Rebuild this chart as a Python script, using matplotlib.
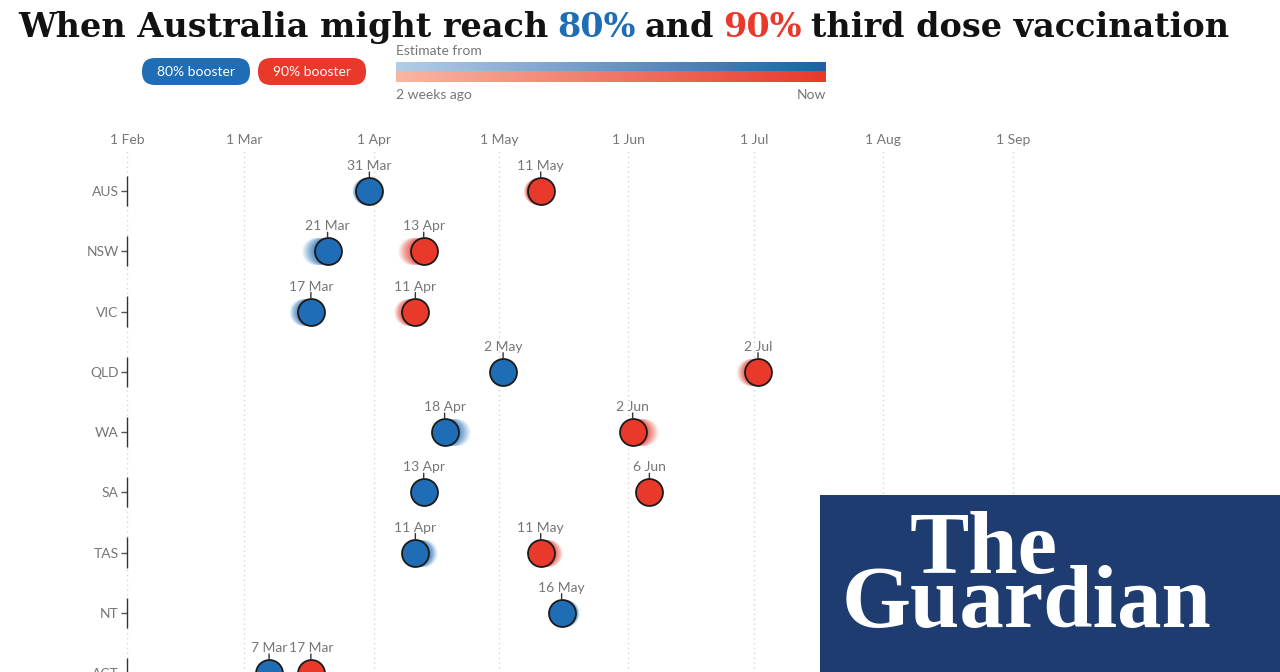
import matplotlib
matplotlib.use("Agg")
import matplotlib.pyplot as plt
import matplotlib.dates as mdates
import numpy as np
import pandas as pd
from matplotlib.patches import FancyBboxPatch, Rectangle
from matplotlib.colors import LinearSegmentedColormap

# ---------------- data ----------------
states = ["AUS", "NSW", "VIC", "QLD", "WA", "SA", "TAS", "NT", "ACT"]
date80 = ["2022-03-31", "2022-03-21", "2022-03-17", "2022-05-02", "2022-04-18",
          "2022-04-13", "2022-04-11", "2022-05-16", "2022-03-07"]
date90 = ["2022-05-11", "2022-04-13", "2022-04-11", "2022-07-02", "2022-06-02",
          "2022-06-06", "2022-05-11", None, "2022-03-17"]
# estimates from two weeks ago (start of the fading trail)
prev80 = ["2022-03-30", "2022-03-18", "2022-03-15", "2022-05-02", "2022-04-21",
          "2022-04-13", "2022-04-13", "2022-05-17", "2022-03-07"]
prev90 = ["2022-05-10", "2022-04-10", "2022-04-09", "2022-06-30", "2022-06-05",
          "2022-06-06", "2022-05-13", None, "2022-03-17"]
month_ticks = ["2022-02-01", "2022-03-01", "2022-04-01", "2022-05-01",
               "2022-06-01", "2022-07-01", "2022-08-01", "2022-09-01"]
month_labels = ["1 Feb", "1 Mar", "1 Apr", "1 May", "1 Jun", "1 Jul", "1 Aug", "1 Sep"]
series_labels = ["80% booster", "90% booster"]

# ---------------- style ----------------
BLUE = "#1f6db4"
RED = "#e8392b"
GREY = "#767676"
DARK = "#121212"
EDGE = "#1a1a1a"
SANS = ["Lato", "DejaVu Sans"]
plt.rcParams["font.family"] = SANS

W, H = 1280, 672
fig = plt.figure(figsize=(12.8, 6.72), dpi=100)
fig.patch.set_facecolor("white")

PX_PER_DAY = 4.179
x0px = 127
xmin = mdates.date2num(pd.Timestamp(month_ticks[0]))
xmax = xmin + (W - x0px) / PX_PER_DAY
row0, rowstep = 191, 60.25
top_px, bot_px = 150, 700

ax = fig.add_axes([x0px / W, 1 - bot_px / H, (W - x0px) / W, (bot_px - top_px) / H])
ax.set_xlim(xmin, xmax)
ax.set_ylim((bot_px - row0) / rowstep, (top_px - row0) / rowstep)
for s in ax.spines.values():
    s.set_visible(False)

ax.set_xticks(mdates.date2num(pd.to_datetime(month_ticks)), month_labels)
ax.xaxis.tick_top()
ax.tick_params(axis="x", length=0, pad=3.2, labelsize=10, labelcolor=GREY)
ax.grid(axis="x", color="#d4d4d4", linestyle=(0, (1, 2.5)), lw=1)
ax.set_axisbelow(True)

rows = np.arange(len(states))
ax.set_yticks(rows, states)
ax.tick_params(axis="y", length=4, width=1, color="#555555", labelcolor=GREY,
               labelsize=10, pad=2)
ax.vlines([xmin] * len(states), rows - 0.25, rows + 0.25, color="#333333", lw=1,
          clip_on=False, zorder=3)

MS = 19.4  # marker size in points (~27 px)


def draw(dates, prevs, color):
    for i, (d, p) in enumerate(zip(dates, prevs)):
        if d is None:
            continue
        x = mdates.date2num(pd.Timestamp(d))
        xp = mdates.date2num(pd.Timestamp(p)) if p else x
        # fading trail of earlier estimates
        n = 14
        for k in range(n):
            t = k / (n - 1)
            ax.plot(xp + (x - xp) * t, i, "o", ms=MS, mfc=color, mec="none",
                    alpha=0.06 + 0.08 * t, zorder=4)
        ax.plot(x, i, "o", ms=MS, mfc=color, mec=EDGE, mew=1.3, zorder=5)
        ax.annotate("", xy=(x, i), xytext=(0, 19), textcoords="offset pixels",
                    arrowprops=dict(arrowstyle="-", color="#333333", lw=1,
                                    shrinkA=0, shrinkB=9.8), zorder=6)
        lbl = pd.Timestamp(d)
        ax.annotate(f"{lbl.day} {lbl.strftime('%b')}", xy=(x, i), xytext=(0, 19),
                    textcoords="offset pixels", ha="center", va="bottom",
                    fontsize=10, color=GREY, zorder=6)


draw(date80, prev80, BLUE)
draw(date90, prev90, RED)

# ---------------- overlay (pixel coordinates) ----------------
ov = fig.add_axes([0, 0, 1, 1], zorder=10)
ov.set_xlim(0, W)
ov.set_ylim(H, 0)
ov.axis("off")
ov.patch.set_alpha(0)

fig.canvas.draw()
renderer = fig.canvas.get_renderer()


def width_of(s, **kw):
    t = ov.text(0, 0, s, **kw)
    w = t.get_window_extent(renderer).width
    t.remove()
    return w


# title: words laid out with a fixed word gap
TITLE_FONT = dict(family=["DejaVu Serif"], weight="bold")
pieces = [("When Australia might reach", DARK), ("80%", BLUE), ("and", DARK),
          ("90%", RED), ("third dose vaccination", DARK)]
GAP = 9
k = sum(width_of(p, fontsize=30, **TITLE_FONT) for p, _ in pieces) / 30
tsize = (1210 - GAP * (len(pieces) - 1)) / k
x = 18
for text, col in pieces:
    ov.text(x, 37, text, fontsize=tsize, color=col, va="baseline", ha="left", **TITLE_FONT)
    x += width_of(text, fontsize=tsize, **TITLE_FONT) + GAP

# legend pills
for (x, col, lab) in [(142, BLUE, series_labels[0]), (258, RED, series_labels[1])]:
    ov.add_patch(FancyBboxPatch((x, 58), 108, 27,
                                boxstyle="round,pad=0,rounding_size=13",
                                fc=col, ec="none"))
    ov.text(x + 54, 71.5, lab, color="white", fontsize=10, ha="center", va="center")

# gradient key
grad = np.linspace(0, 1, 256)[None, :]
cm_b = LinearSegmentedColormap.from_list("b", ["#b3cde7", "#1b62a6"])
cm_r = LinearSegmentedColormap.from_list("r", ["#f9b6a3", "#e8392b"])
ov.imshow(grad, cmap=cm_b, extent=(396, 826, 71, 62), aspect="auto", zorder=2)
ov.imshow(grad, cmap=cm_r, extent=(396, 826, 82, 71), aspect="auto", zorder=2)
ov.set_xlim(0, W)
ov.set_ylim(H, 0)
ov.text(396, 51, "Estimate from", color=GREY, fontsize=10, ha="left", va="center")
ov.text(396, 95, "2 weeks ago", color=GREY, fontsize=10, ha="left", va="center")
ov.text(826, 95, "Now", color=GREY, fontsize=10, ha="right", va="center")

# Guardian logo
ov.add_patch(Rectangle((820, 495), W - 820, H - 495, fc="#1f3c70", ec="none", zorder=5))
LOGO_FONT = dict(family=["Liberation Serif", "DejaVu Serif"], weight="bold")
wg = width_of("Guardian", fontsize=60, **LOGO_FONT)
lsize = 60 * 370 / wg
ov.text(910, 573, "The", color="white", fontsize=lsize, va="baseline", ha="left",
        zorder=6, **LOGO_FONT)
ov.text(842, 627, "Guardian", color="white", fontsize=lsize, va="baseline", ha="left",
        zorder=6, **LOGO_FONT)

fig.savefig("out.png", dpi=100)
